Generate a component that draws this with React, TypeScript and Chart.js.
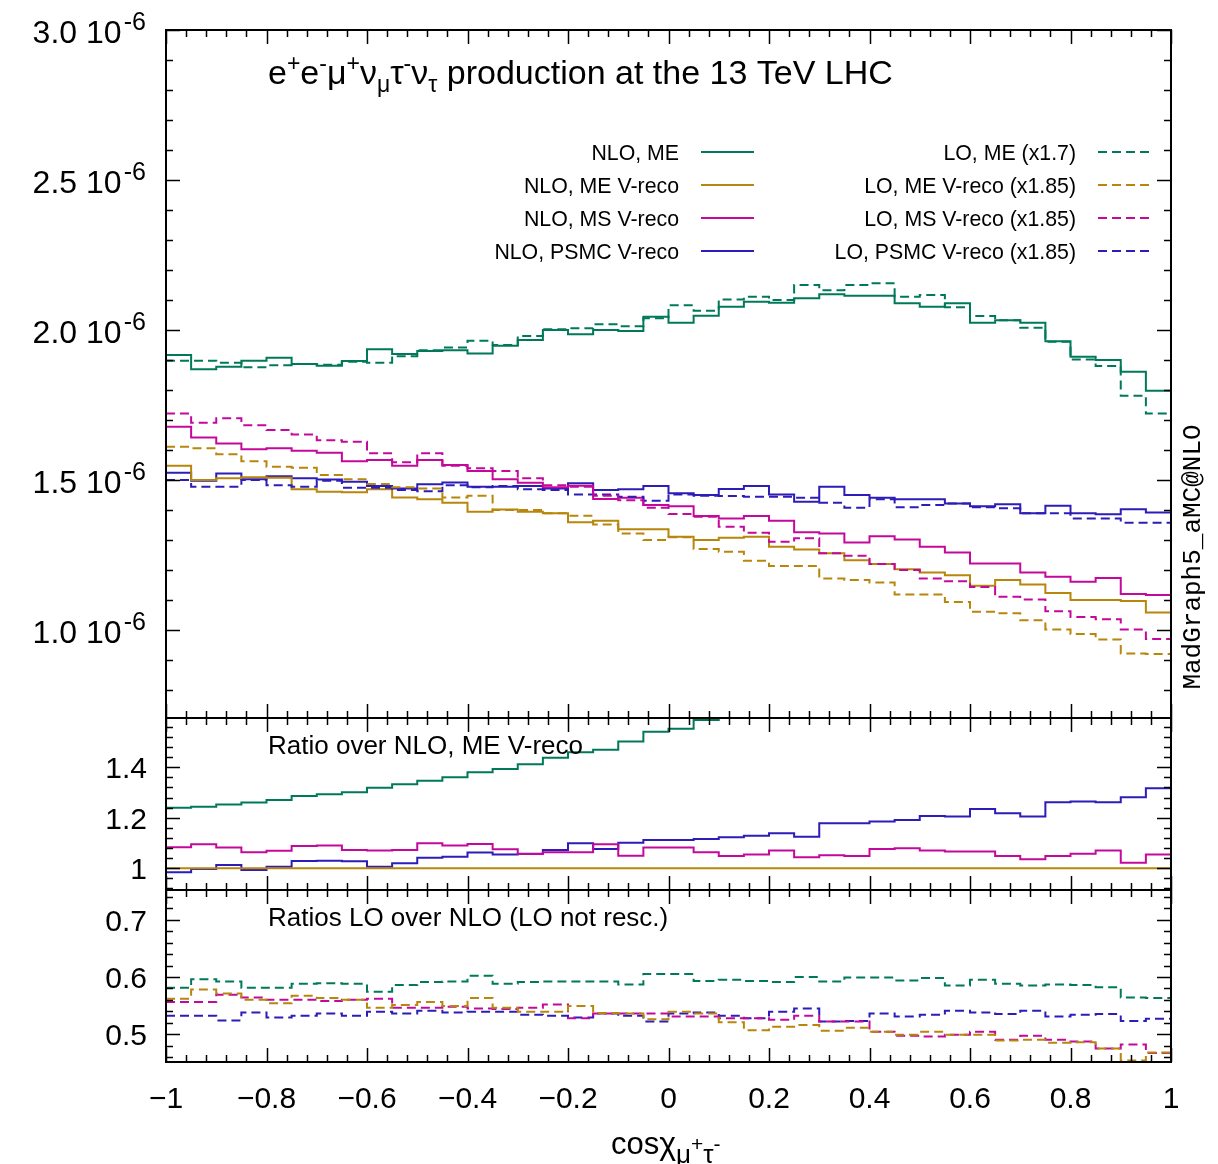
import React, { useEffect, useRef } from "react";
import { Chart, registerables } from "chart.js";

Chart.register(...registerables);

// Binning of cos(chi_{mu+ tau-})
const X_MIN = -1;
const X_MAX = 1;
const BIN_WIDTH = 0.05;

// Tick values of the shared x axis and of the three panels
const X_TICKS = [-1, -0.8, -0.6, -0.4, -0.2, 0, 0.2, 0.4, 0.6, 0.8, 1];
const MAIN_TICKS = [1.0, 1.5, 2.0, 2.5, 3.0];
const MID_TICKS = [1, 1.2, 1.4];
const LOW_TICKS = [0.5, 0.6, 0.7];

// Main panel, in units of 10^-6
const nloME = [1.917, 1.869, 1.878, 1.898, 1.908, 1.887, 1.881, 1.897, 1.936, 1.920, 1.930, 1.933, 1.922, 1.948, 1.967, 2.000, 1.986, 2.000, 1.997, 2.044, 2.024, 2.048, 2.078, 2.094, 2.091, 2.106, 2.119, 2.114, 2.114, 2.089, 2.078, 2.089, 2.024, 2.033, 2.024, 1.963, 1.911, 1.900, 1.861, 1.798];
const nloMEVreco = [1.548, 1.500, 1.506, 1.509, 1.508, 1.469, 1.461, 1.459, 1.469, 1.442, 1.436, 1.424, 1.394, 1.402, 1.394, 1.389, 1.359, 1.364, 1.336, 1.336, 1.311, 1.300, 1.308, 1.311, 1.278, 1.269, 1.256, 1.233, 1.220, 1.203, 1.192, 1.183, 1.148, 1.167, 1.152, 1.124, 1.100, 1.100, 1.097, 1.059];
const nloMSVreco = [1.678, 1.642, 1.622, 1.603, 1.606, 1.598, 1.591, 1.563, 1.567, 1.548, 1.567, 1.550, 1.530, 1.503, 1.491, 1.476, 1.481, 1.437, 1.441, 1.417, 1.413, 1.380, 1.372, 1.380, 1.364, 1.326, 1.322, 1.292, 1.313, 1.302, 1.278, 1.259, 1.222, 1.222, 1.192, 1.178, 1.161, 1.174, 1.120, 1.117];
const nloPSMCVreco = [1.524, 1.498, 1.522, 1.503, 1.513, 1.506, 1.502, 1.494, 1.480, 1.472, 1.486, 1.492, 1.478, 1.478, 1.480, 1.472, 1.489, 1.467, 1.469, 1.480, 1.456, 1.450, 1.470, 1.480, 1.452, 1.428, 1.478, 1.450, 1.441, 1.436, 1.436, 1.422, 1.413, 1.419, 1.389, 1.414, 1.389, 1.386, 1.403, 1.392];
const loME = [1.898, 1.898, 1.891, 1.876, 1.883, 1.887, 1.884, 1.894, 1.891, 1.913, 1.933, 1.942, 1.964, 1.950, 1.980, 2.003, 2.006, 2.019, 2.013, 2.039, 2.083, 2.064, 2.102, 2.111, 2.100, 2.150, 2.133, 2.150, 2.156, 2.111, 2.117, 2.076, 2.047, 2.033, 2.008, 1.961, 1.902, 1.880, 1.781, 1.722];
const loMEVreco = [1.611, 1.606, 1.586, 1.563, 1.544, 1.541, 1.517, 1.503, 1.487, 1.476, 1.472, 1.442, 1.448, 1.400, 1.400, 1.389, 1.381, 1.352, 1.322, 1.300, 1.309, 1.270, 1.261, 1.231, 1.214, 1.214, 1.172, 1.167, 1.159, 1.119, 1.119, 1.094, 1.061, 1.056, 1.033, 1.002, 0.987, 0.969, 0.922, 0.920];
const loMSVreco = [1.722, 1.691, 1.706, 1.683, 1.667, 1.652, 1.633, 1.628, 1.589, 1.559, 1.589, 1.548, 1.539, 1.530, 1.506, 1.483, 1.478, 1.448, 1.433, 1.408, 1.387, 1.378, 1.344, 1.324, 1.294, 1.306, 1.256, 1.248, 1.220, 1.200, 1.172, 1.163, 1.144, 1.111, 1.102, 1.063, 1.044, 1.036, 1.002, 0.970];
const loPSMCVreco = [1.500, 1.478, 1.478, 1.500, 1.483, 1.478, 1.498, 1.474, 1.474, 1.467, 1.463, 1.483, 1.476, 1.480, 1.469, 1.467, 1.452, 1.452, 1.444, 1.431, 1.452, 1.448, 1.447, 1.444, 1.444, 1.441, 1.424, 1.408, 1.436, 1.409, 1.417, 1.422, 1.409, 1.406, 1.389, 1.389, 1.372, 1.372, 1.358, 1.358];

// Ratios over NLO, ME V-reco
const ratioME = [1.240, 1.244, 1.253, 1.260, 1.270, 1.286, 1.293, 1.301, 1.319, 1.333, 1.347, 1.360, 1.380, 1.393, 1.412, 1.438, 1.459, 1.469, 1.502, 1.541, 1.552, 1.587, 1.612, 1.625, 1.636, 1.660, 1.687, 1.714, 1.733, 1.737, 1.743, 1.766, 1.763, 1.742, 1.757, 1.746, 1.737, 1.727, 1.696, 1.698];
const ratioMEVreco = [1, 1, 1, 1, 1, 1, 1, 1, 1, 1, 1, 1, 1, 1, 1, 1, 1, 1, 1, 1, 1, 1, 1, 1, 1, 1, 1, 1, 1, 1, 1, 1, 1, 1, 1, 1, 1, 1, 1, 1];
const ratioMS = [1.083, 1.095, 1.082, 1.063, 1.069, 1.088, 1.090, 1.072, 1.070, 1.072, 1.099, 1.090, 1.096, 1.075, 1.057, 1.063, 1.063, 1.095, 1.050, 1.082, 1.082, 1.063, 1.049, 1.055, 1.070, 1.044, 1.052, 1.049, 1.076, 1.079, 1.070, 1.066, 1.066, 1.049, 1.036, 1.049, 1.058, 1.070, 1.022, 1.055];
const ratioPSMC = [0.984, 0.997, 1.013, 0.993, 1.006, 1.029, 1.030, 1.028, 1.006, 1.020, 1.042, 1.046, 1.062, 1.055, 1.058, 1.072, 1.099, 1.076, 1.101, 1.112, 1.112, 1.116, 1.123, 1.129, 1.139, 1.125, 1.178, 1.178, 1.185, 1.191, 1.207, 1.205, 1.235, 1.218, 1.205, 1.261, 1.264, 1.261, 1.281, 1.317];

// Ratios LO over NLO, LO not rescaled
const loOverNloME = [0.581, 0.596, 0.592, 0.581, 0.581, 0.588, 0.589, 0.588, 0.574, 0.586, 0.591, 0.592, 0.602, 0.588, 0.591, 0.592, 0.592, 0.592, 0.587, 0.605, 0.605, 0.593, 0.595, 0.593, 0.591, 0.600, 0.592, 0.599, 0.599, 0.594, 0.598, 0.585, 0.595, 0.588, 0.585, 0.587, 0.586, 0.582, 0.564, 0.563];
const loOverNloMEVreco = [0.562, 0.578, 0.571, 0.560, 0.554, 0.567, 0.563, 0.560, 0.546, 0.551, 0.556, 0.549, 0.563, 0.546, 0.539, 0.539, 0.549, 0.537, 0.536, 0.526, 0.539, 0.536, 0.521, 0.507, 0.513, 0.516, 0.506, 0.511, 0.504, 0.499, 0.504, 0.499, 0.499, 0.489, 0.490, 0.485, 0.486, 0.475, 0.454, 0.468];
const loOverNloMS = [0.556, 0.556, 0.569, 0.564, 0.560, 0.560, 0.558, 0.560, 0.562, 0.546, 0.546, 0.548, 0.545, 0.544, 0.546, 0.552, 0.528, 0.536, 0.536, 0.536, 0.531, 0.531, 0.528, 0.528, 0.525, 0.532, 0.522, 0.522, 0.504, 0.497, 0.496, 0.499, 0.504, 0.490, 0.497, 0.490, 0.487, 0.475, 0.482, 0.467];
const loOverNloPSMC = [0.532, 0.532, 0.524, 0.538, 0.529, 0.532, 0.536, 0.532, 0.539, 0.536, 0.541, 0.538, 0.539, 0.539, 0.534, 0.532, 0.529, 0.536, 0.532, 0.522, 0.536, 0.538, 0.532, 0.528, 0.539, 0.545, 0.522, 0.523, 0.536, 0.531, 0.534, 0.541, 0.538, 0.535, 0.541, 0.531, 0.534, 0.535, 0.523, 0.527];

const COLOR_ME = "#00795a";
const COLOR_ME_VRECO = "#b8860b";
const COLOR_MS = "#c5089c";
const COLOR_PSMC = "#2c1cb8";

const LEGEND_NLO = [
  { label: "NLO, ME", color: COLOR_ME },
  { label: "NLO, ME V-reco", color: COLOR_ME_VRECO },
  { label: "NLO, MS V-reco", color: COLOR_MS },
  { label: "NLO, PSMC V-reco", color: COLOR_PSMC },
];
const LEGEND_LO = [
  { label: "LO, ME (x1.7)", color: COLOR_ME },
  { label: "LO, ME V-reco (x1.85)", color: COLOR_ME_VRECO },
  { label: "LO, MS V-reco (x1.85)", color: COLOR_MS },
  { label: "LO, PSMC V-reco (x1.85)", color: COLOR_PSMC },
];

const SANS = "'Liberation Sans', Arial, Helvetica, sans-serif";
const MONO = "'Liberation Mono', 'DejaVu Sans Mono', monospace";
const DASH = [9, 5];

const W = 1218;
const H = 1164;

// Histogram: one point per lower bin edge, plus the closing edge
function histogram(values: number[]) {
  const pts = values.map((v, i) => ({ x: X_MIN + i * BIN_WIDTH, y: v }));
  pts.push({ x: X_MIN + values.length * BIN_WIDTH, y: values[values.length - 1] });
  return pts;
}

function series(label: string, values: number[], color: string, yAxisID: string, dashed: boolean) {
  return {
    label,
    data: histogram(values),
    borderColor: color,
    backgroundColor: color,
    borderWidth: 2,
    borderDash: dashed ? DASH : [],
    pointRadius: 0,
    pointHoverRadius: 0,
    stepped: true as const,
    fill: false,
    tension: 0,
    xAxisID: "x",
    yAxisID,
  };
}

type Run = { text: string; size: number; dy: number; font?: string };

function drawRuns(ctx: CanvasRenderingContext2D, runs: Run[], x: number, y: number, align: "left" | "right" | "center") {
  let total = 0;
  const widths = runs.map((r) => {
    ctx.font = `${r.size}px ${r.font || SANS}`;
    const w = ctx.measureText(r.text).width;
    total += w;
    return w;
  });
  let cx = align === "left" ? x : align === "right" ? x - total : x - total / 2;
  ctx.textAlign = "left";
  ctx.textBaseline = "alphabetic";
  runs.forEach((r, i) => {
    ctx.font = `${r.size}px ${r.font || SANS}`;
    ctx.fillText(r.text, cx, y + r.dy);
    cx += widths[i];
  });
}

const base = (t: string, size = 30): Run => ({ text: t, size, dy: 0 });
const sup = (t: string, size = 23, dy = -13): Run => ({ text: t, size, dy });
const sub = (t: string, size = 23, dy = 8): Run => ({ text: t, size, dy });

function fmtTick(v: number, digits: number) {
  const r = Math.round(v * 100) / 100;
  const s = digits > 0 && !Number.isInteger(r) ? Math.abs(r).toFixed(digits) : String(Math.abs(r));
  return (r < 0 ? "\u2212" : "") + s;
}

const PANELS = [
  { id: "yMain", ticks: MAIN_TICKS, minorStep: 0.1 },
  { id: "yMid", ticks: MID_TICKS, minorStep: 0.04 },
  { id: "yLow", ticks: LOW_TICKS, minorStep: 0.02 },
];

const framePlugin = {
  id: "panelFrames",
  afterDatasetsDraw(chart: any) {
    const { ctx, scales } = chart;
    const xs = scales.x;
    const left = xs.left;
    const right = xs.right;
    const MAJ = 14;
    const MIN = 7;
    ctx.save();
    ctx.strokeStyle = "#000";
    ctx.lineWidth = 1.5;
    ctx.beginPath();
    for (const p of PANELS) {
      const ys = scales[p.id];
      const top = ys.top;
      const bottom = ys.bottom;
      // y ticks, mirrored on the right
      const lo = Math.ceil(ys.min / p.minorStep - 1e-6) * p.minorStep;
      for (let v = lo; v <= ys.max + 1e-9; v += p.minorStep) {
        const major = p.ticks.some((t) => Math.abs(t - v) < 1e-6);
        const len = major ? MAJ : MIN;
        const py = Math.round(ys.getPixelForValue(v)) + 0.5;
        ctx.moveTo(left, py);
        ctx.lineTo(left + len, py);
        ctx.moveTo(right, py);
        ctx.lineTo(right - len, py);
      }
      // x ticks on top and bottom edges
      for (let k = 0; k <= 50; k++) {
        const v = X_MIN + k * 0.04;
        const major = k % 5 === 0;
        const len = major ? MAJ : MIN;
        const px = Math.round(xs.getPixelForValue(v)) + 0.5;
        ctx.moveTo(px, top);
        ctx.lineTo(px, top + len);
        ctx.moveTo(px, bottom);
        ctx.lineTo(px, bottom - len);
      }
    }
    ctx.stroke();
    ctx.lineWidth = 2;
    for (const p of PANELS) {
      const ys = scales[p.id];
      ctx.strokeRect(left, ys.top, right - left, ys.bottom - ys.top);
    }
    ctx.restore();
  },
};

const textPlugin = {
  id: "panelTexts",
  afterDraw(chart: any) {
    const { ctx, scales } = chart;
    const xs = scales.x;
    ctx.save();
    ctx.fillStyle = "#000";

    // main y labels, a 10^-6 factor written on every label
    const yMain = scales.yMain;
    for (const t of yMain.ticks) {
      const py = yMain.getPixelForValue(t.value);
      drawRuns(ctx, [base(t.value.toFixed(1) + " 10", 32), { text: " ", size: 8, dy: 0 }, sup("-6", 25, -13)], 146, py + 13, "right");
    }
    for (const id of ["yMid", "yLow"]) {
      const ys = scales[id];
      for (const t of ys.ticks) {
        const py = ys.getPixelForValue(t.value);
        drawRuns(ctx, [base(fmtTick(t.value, 1))], 147, py + 11, "right");
      }
    }
    for (const t of xs.ticks) {
      const px = xs.getPixelForValue(t.value);
      drawRuns(ctx, [base(fmtTick(t.value, 1))], px, 1108, "center");
    }

    // x axis title
    drawRuns(
      ctx,
      [base("cos", 31), base("\u03c7", 32), sub("\u03bc", 26, 9), sub("+", 21, -3), sub("\u03c4", 26, 9), sub("-", 21, -3)],
      611,
      1154,
      "left"
    );

    // title
    drawRuns(
      ctx,
      [
        base("e", 34), sup("+"), base("e", 34), sup("-"),
        base("\u03bc", 34), sup("+"), base("\u03bd", 34), sub("\u03bc"), base("\u03c4", 34), sup("-"),
        base("\u03bd", 34), sub("\u03c4"), base(" production at the 13 TeV LHC", 34),
      ],
      268,
      84,
      "left"
    );

    // panel captions
    drawRuns(ctx, [base("Ratio over NLO, ME V-reco", 26)], 268, 754, "left");
    drawRuns(ctx, [base("Ratios LO over NLO (LO not resc.)", 26)], 268, 926, "left");

    // legend
    const rows = [152, 185, 218, 251];
    ctx.lineWidth = 2;
    rows.forEach((ry, i) => {
      drawRuns(ctx, [base(LEGEND_NLO[i].label, 21.3)], 679, ry + 7.5, "right");
      ctx.strokeStyle = LEGEND_NLO[i].color;
      ctx.setLineDash([]);
      ctx.beginPath();
      ctx.moveTo(701, ry);
      ctx.lineTo(754, ry);
      ctx.stroke();
      drawRuns(ctx, [base(LEGEND_LO[i].label, 21.3)], 1076, ry + 7.5, "right");
      ctx.strokeStyle = LEGEND_LO[i].color;
      ctx.setLineDash(DASH);
      ctx.beginPath();
      ctx.moveTo(1098, ry);
      ctx.lineTo(1150, ry);
      ctx.stroke();
    });
    ctx.setLineDash([]);

    // generator tag along the right edge
    ctx.translate(1193, 557);
    ctx.rotate(-Math.PI / 2);
    ctx.font = `26px ${MONO}`;
    ctx.textAlign = "center";
    ctx.textBaseline = "middle";
    ctx.fillText("MadGraph5_aMC@NLO", 0, 0);
    ctx.restore();
  },
};

function yScale(ticks: number[], min: number, max: number, weight: number, stackWeight: number) {
  return {
    type: "linear" as const,
    position: "left" as const,
    stack: "panels",
    stackWeight,
    weight,
    min,
    max,
    afterFit: (s: any) => {
      s.width = 166;
    },
    afterBuildTicks: (s: any) => {
      s.ticks = ticks.map((value) => ({ value }));
    },
    ticks: { display: false },
    grid: { display: false, drawTicks: false },
    border: { display: false },
  };
}

export default function App() {
  const ref = useRef<HTMLCanvasElement | null>(null);

  useEffect(() => {
    if (!ref.current) return;
    const chart = new Chart(ref.current, {
      type: "line",
      data: {
        datasets: [
          series("LO, ME (x1.7)", loME, COLOR_ME, "yMain", true),
          series("LO, ME V-reco (x1.85)", loMEVreco, COLOR_ME_VRECO, "yMain", true),
          series("LO, MS V-reco (x1.85)", loMSVreco, COLOR_MS, "yMain", true),
          series("LO, PSMC V-reco (x1.85)", loPSMCVreco, COLOR_PSMC, "yMain", true),
          series("NLO, ME", nloME, COLOR_ME, "yMain", false),
          series("NLO, ME V-reco", nloMEVreco, COLOR_ME_VRECO, "yMain", false),
          series("NLO, MS V-reco", nloMSVreco, COLOR_MS, "yMain", false),
          series("NLO, PSMC V-reco", nloPSMCVreco, COLOR_PSMC, "yMain", false),
          series("NLO, ME / NLO, ME V-reco", ratioME, COLOR_ME, "yMid", false),
          series("NLO, ME V-reco / NLO, ME V-reco", ratioMEVreco, COLOR_ME_VRECO, "yMid", false),
          series("NLO, MS V-reco / NLO, ME V-reco", ratioMS, COLOR_MS, "yMid", false),
          series("NLO, PSMC V-reco / NLO, ME V-reco", ratioPSMC, COLOR_PSMC, "yMid", false),
          series("LO/NLO, ME", loOverNloME, COLOR_ME, "yLow", true),
          series("LO/NLO, ME V-reco", loOverNloMEVreco, COLOR_ME_VRECO, "yLow", true),
          series("LO/NLO, MS V-reco", loOverNloMS, COLOR_MS, "yLow", true),
          series("LO/NLO, PSMC V-reco", loOverNloPSMC, COLOR_PSMC, "yLow", true),
        ],
      },
      options: {
        responsive: false,
        maintainAspectRatio: false,
        devicePixelRatio: 1,
        animation: false,
        events: [],
        layout: { padding: { left: 0, right: W - 1171, top: 30, bottom: 0 } },
        plugins: { legend: { display: false }, tooltip: { enabled: false }, title: { display: false } },
        scales: {
          x: {
            type: "linear",
            position: "bottom",
            min: X_MIN,
            max: X_MAX,
            afterFit: (s: any) => {
              s.height = 102;
            },
            afterBuildTicks: (s: any) => {
              s.ticks = X_TICKS.map((value) => ({ value }));
            },
            ticks: { display: false },
            grid: { display: false, drawTicks: false },
            border: { display: false },
          },
          yMain: yScale(MAIN_TICKS, 0.707, 3.0, 3, 4),
          yMid: yScale(MID_TICKS, 0.914, 1.595, 2, 1),
          yLow: yScale(LOW_TICKS, 0.4513, 0.752, 1, 1),
        },
      } as any,
      plugins: [framePlugin, textPlugin],
    });
    return () => chart.destroy();
  }, []);

  return (
    <div style={{ position: "absolute", left: 0, top: 0, width: W, height: H, background: "#fff" }}>
      <canvas ref={ref} width={W} height={H} style={{ display: "block", width: W, height: H }} />
    </div>
  );
}
